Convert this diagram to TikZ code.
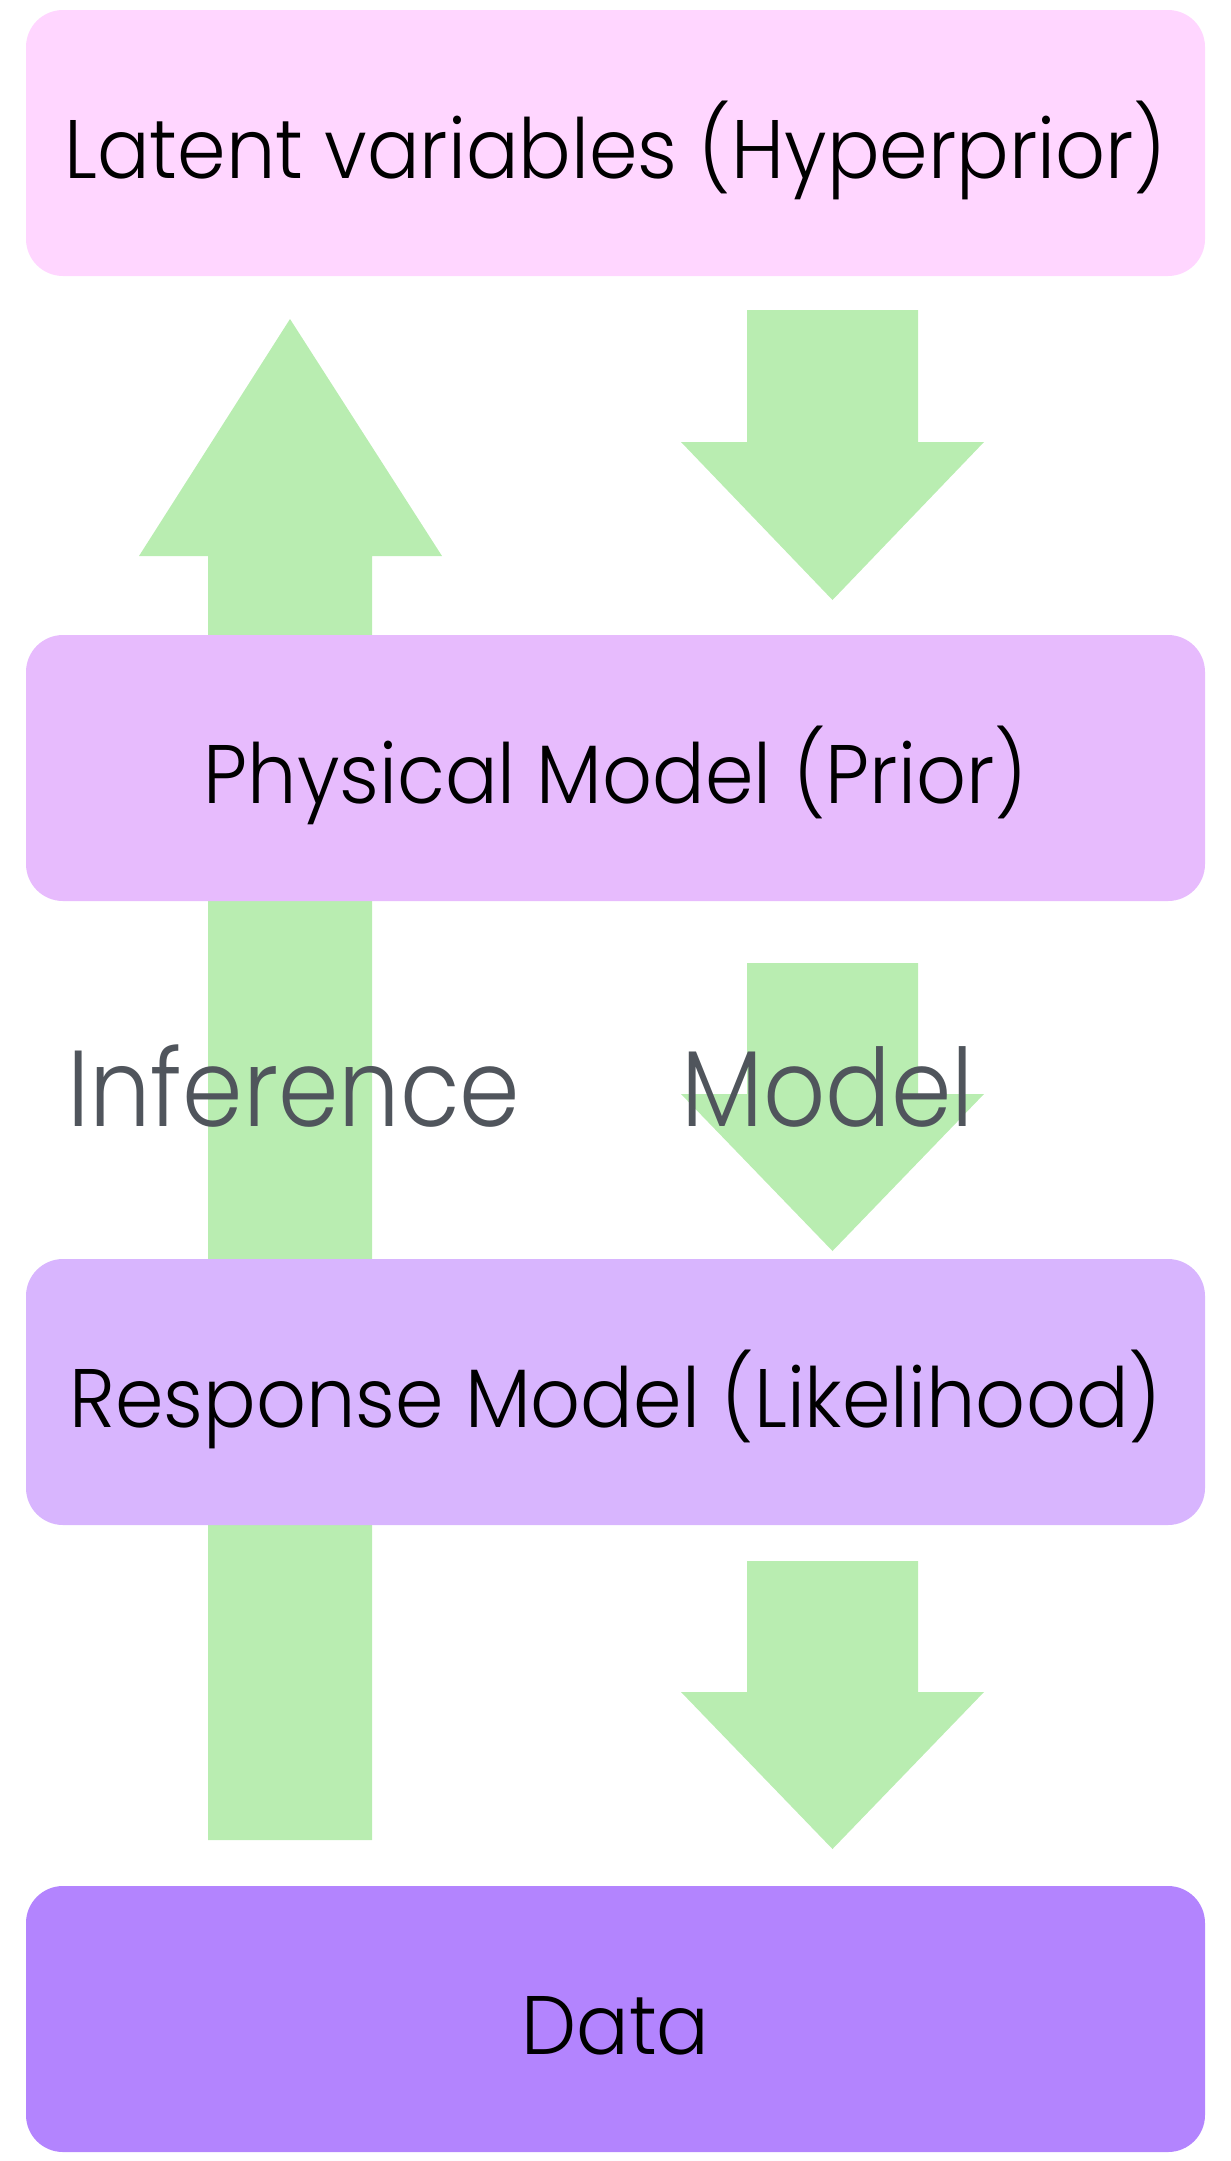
\documentclass[tikz,border=0pt]{standalone}
\usepackage{fontspec}
\setmainfont{Poppins}[UprightFont={* Light}]
\newfontfamily\boxfont{Poppins}[UprightFont={* Light}, FakeStretch=0.94]
\newfontfamily\labelfont{Poppins}[UprightFont={* Light}, FakeStretch=0.9]
\newcommand{\lowertext}[1]{\raisebox{-7pt}[\height][\depth]{#1}}
\definecolor{boxA}{HTML}{FFD6FF}
\definecolor{boxB}{HTML}{E7BBFD}
\definecolor{boxC}{HTML}{D8B5FE}
\definecolor{boxD}{HTML}{B384FE}
\definecolor{arrowgreen}{HTML}{B9EDB1}
\definecolor{labelgray}{HTML}{50555C}
\tikzset{
  stage/.style={rounded corners=37pt, minimum width=1179pt, minimum height=266pt,
    inner sep=0pt, font=\boxfont\fontsize{83}{95}\selectfont, text=black},
  blockarrow/.style={fill=arrowgreen, draw=none},
  sidelabel/.style={font=\labelfont\fontsize{108}{120}\selectfont, text=labelgray, inner sep=0pt}
}
\begin{document}
\begin{tikzpicture}[x=1pt,y=-1pt]
\useasboundingbox (0,0) rectangle (1231,2161);
% inference arrow (up)
\fill[blockarrow] (208,1840) -- (208,556) -- (139,556) -- (290,319) -- (442,556) -- (372,556) -- (372,1840) -- cycle;
% model arrows (down)
\foreach \t/\b/\p in {310/442/600, 963/1094/1251, 1561/1692/1849}{
  \fill[blockarrow] (747,\t) -- (918,\t) -- (918,\b) -- (984,\b) -- (832.5,\p) -- (681,\b) -- (747,\b) -- cycle;
}
% boxes
\node[stage, fill=boxA] (latent) at (615.5,143) {\lowertext{Latent variables (Hyperprior)}};
\node[stage, fill=boxB] (physical) at (615.5,768) {\lowertext{Physical Model (Prior)}};
\node[stage, fill=boxC] (response) at (615.5,1392) {\lowertext{Response Model (Likelihood)}};
\node[stage, fill=boxD] (data) at (615.5,2019) {\lowertext{Data}};
% labels
\node[sidelabel, anchor=base west] (inference) at (67,1126) {Inference};
\node[sidelabel, anchor=base west] (model) at (681,1126) {Model};
\end{tikzpicture}
\end{document}
